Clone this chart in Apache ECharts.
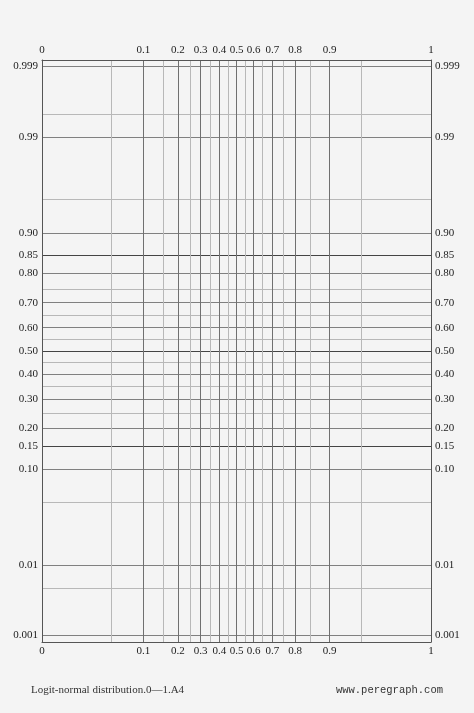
<!DOCTYPE html>
<html><head><meta charset="utf-8">
<script src="https://cdn.jsdelivr.net/npm/echarts@6/dist/echarts.min.js"></script>
<style>html,body{margin:0;padding:0;background:#f4f4f4}#c{width:474px;height:713px}</style>
</head><body><div id="c"></div>
<script>
// Tick labels / grid values
const xMajor = [0.1,0.2,0.3,0.4,0.5,0.6,0.7,0.8,0.9];
const xMinor = [0.05,0.15,0.25,0.35,0.45,0.55,0.65,0.75,0.85,0.95];
const yLabeled = [0.001,0.01,0.10,0.15,0.20,0.30,0.40,0.50,0.60,0.70,0.80,0.85,0.90,0.99,0.999];
const yLabelText = ['0.001','0.01','0.10','0.15','0.20','0.30','0.40','0.50','0.60','0.70','0.80','0.85','0.90','0.99','0.999'];
const yDark = [0.15,0.50,0.85];
const yMinor = [0.005,0.05,0.25,0.35,0.45,0.55,0.65,0.75,0.95,0.995];
const X_LIMIT = 4.59, Y_LIMIT = 3.16;

const logit = p => Math.log(p/(1-p));
function probit(p){
  const a=[-3.969683028665376e+01,2.209460984245205e+02,-2.759285104469687e+02,1.383577518672690e+02,-3.066479806614716e+01,2.506628277459239e+00];
  const b=[-5.447609879822406e+01,1.615858368580409e+02,-1.556989798598866e+02,6.680131188771972e+01,-1.328068155288572e+01];
  const c=[-7.784894002430293e-03,-3.223964580411365e-01,-2.400758277161838e+00,-2.549732539343734e+00,4.374664141464968e+00,2.938163982698783e+00];
  const d=[7.784695709041462e-03,3.224671290700398e-01,2.445134137142996e+00,3.754408661907416e+00];
  const pl=0.02425;let q,r;
  if(p<pl){q=Math.sqrt(-2*Math.log(p));return (((((c[0]*q+c[1])*q+c[2])*q+c[3])*q+c[4])*q+c[5])/((((d[0]*q+d[1])*q+d[2])*q+d[3])*q+1);}
  if(p>1-pl){q=Math.sqrt(-2*Math.log(1-p));return -(((((c[0]*q+c[1])*q+c[2])*q+c[3])*q+c[4])*q+c[5])/((((d[0]*q+d[1])*q+d[2])*q+d[3])*q+1);}
  q=p-0.5;r=q*q;return (((((a[0]*r+a[1])*r+a[2])*r+a[3])*r+a[4])*r+a[5])*q/(((((b[0]*r+b[1])*r+b[2])*r+b[3])*r+b[4])*r+1);
}
const xLabVals = [-X_LIMIT].concat(xMajor.map(logit)).concat([X_LIMIT]);
const xLabTxt = ['0'].concat(xMajor.map(String)).concat(['1']);
const yLabVals = yLabeled.map(probit);
function fmt(vals, txt){return v=>{let bi=0,bd=1e9;vals.forEach((u,i)=>{const d=Math.abs(u-v);if(d<bd){bd=d;bi=i;}});return txt[bi];};}
const font = {fontFamily:'Liberation Serif, DejaVu Serif, serif',fontSize:11,color:'#222'};
function xAxis(pos, vals, labels, lineColor, show){
  return {type:'value',position:pos,min:-X_LIMIT,max:X_LIMIT,
    axisLine:{show:show,onZero:false,lineStyle:{color:'#555',width:1}},
    axisTick:{show:false,customValues:vals},
    axisLabel:labels?Object.assign({show:true,customValues:xLabVals,formatter:fmt(xLabVals,xLabTxt),margin:4},font):{show:false},
    splitLine:{show:!!lineColor,lineStyle:{color:lineColor||'#000',width:1}}};
}
function yAxis(pos, vals, labels, lineColor, show){
  return {type:'value',position:pos,min:-Y_LIMIT,max:Y_LIMIT,
    axisLine:{show:show,onZero:false,lineStyle:{color:'#555',width:1}},
    axisTick:{show:false,customValues:vals},
    axisLabel:labels?Object.assign({show:true,customValues:yLabVals,formatter:fmt(yLabVals,yLabelText),margin:4},font):{show:false},
    splitLine:{show:!!lineColor,lineStyle:{color:lineColor||'#000',width:1}}};
}
const chart = echarts.init(document.getElementById('c'));
chart.setOption({
  backgroundColor:'#f4f4f4',animation:false,
  grid:{left:42,right:43,top:60,bottom:71,containLabel:false},
  xAxis:[
    xAxis('bottom', xMinor.map(logit), false, '#b8b8b8', false),
    xAxis('bottom', xMajor.map(logit), true, '#707070', true),
    xAxis('top', xMajor.map(logit), true, null, true)
  ],
  yAxis:[
    yAxis('left', yMinor.map(probit), false, '#b8b8b8', false),
    yAxis('left', yLabVals, true, '#808080', true),
    yAxis('right', yDark.map(probit), true, '#444', true)
  ],
  series:[{type:'line',data:[],xAxisIndex:0,yAxisIndex:0}],
  graphic:[
    {type:'text',left:31,top:685,style:{text:'Logit-normal distribution.0\u20141.A4',font:'11px Liberation Serif, serif',fill:'#333'}},
    {type:'text',right:31,top:685,style:{text:'www.peregraph.com',font:'10.5px Liberation Mono, DejaVu Sans Mono, monospace',fill:'#333'}}
  ]
});
</script></body></html>
